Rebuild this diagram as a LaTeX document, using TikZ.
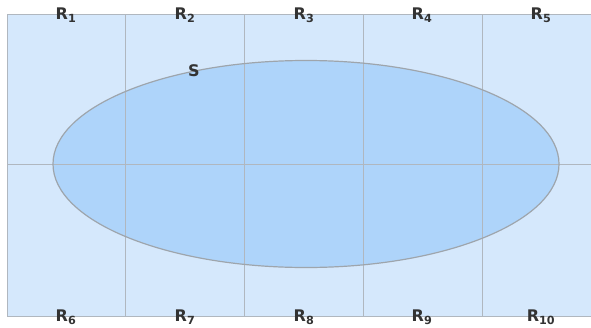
\documentclass[tikz,border=0pt]{standalone}
\usepackage{fontspec}
\setmainfont{DejaVu Sans}
\usepackage{tikz}

\definecolor{cellblue}{HTML}{D5E8FC}
\definecolor{setblue}{HTML}{AED4FA}
\definecolor{gridgray}{HTML}{B0B7BF}

\tikzset{
  reglabel/.style={font=\fontsize{16}{16}\selectfont\bfseries, text=black!80, inner sep=0pt},
}
\newcommand{\reg}[1]{R\textsubscript{#1}}

\begin{document}
\begin{tikzpicture}[x=1pt, y=-1pt]
    \clip (0,0) rectangle (591,327);
    \fill[white] (0,0) rectangle (591,327);

    \filldraw[fill=cellblue, draw=gridgray, line width=1pt] (7,14) rectangle (601,316);
    \filldraw[fill=setblue, draw=none] (306,164) ellipse (253 and 103.5);

    \draw[gridgray, line width=1pt] (125,14) -- (125,316);
    \draw[gridgray, line width=1pt] (244,14) -- (244,316);
    \draw[gridgray, line width=1pt] (363,14) -- (363,316);
    \draw[gridgray, line width=1pt] (482,14) -- (482,316);
    \draw[gridgray, line width=1pt] (7,164) -- (601,164);

    \draw[gridgray!90!black, line width=1.2pt] (306,164) ellipse (253 and 103.5);

    \node[reglabel] (r1) at (66,15) {\reg{1}};
    \node[reglabel] (r2) at (185,15) {\reg{2}};
    \node[reglabel] (r3) at (304,15) {\reg{3}};
    \node[reglabel] (r4) at (422,15) {\reg{4}};
    \node[reglabel] (r5) at (541,15) {\reg{5}};

    \node[reglabel] (r6) at (66,317) {\reg{6}};
    \node[reglabel] (r7) at (185,317) {\reg{7}};
    \node[reglabel] (r8) at (304,317) {\reg{8}};
    \node[reglabel] (r9) at (422,317) {\reg{9}};
    \node[reglabel] (r10) at (541,317) {\reg{10}};

    \node[reglabel] (s) at (194,71) {S};
\end{tikzpicture}
\end{document}
